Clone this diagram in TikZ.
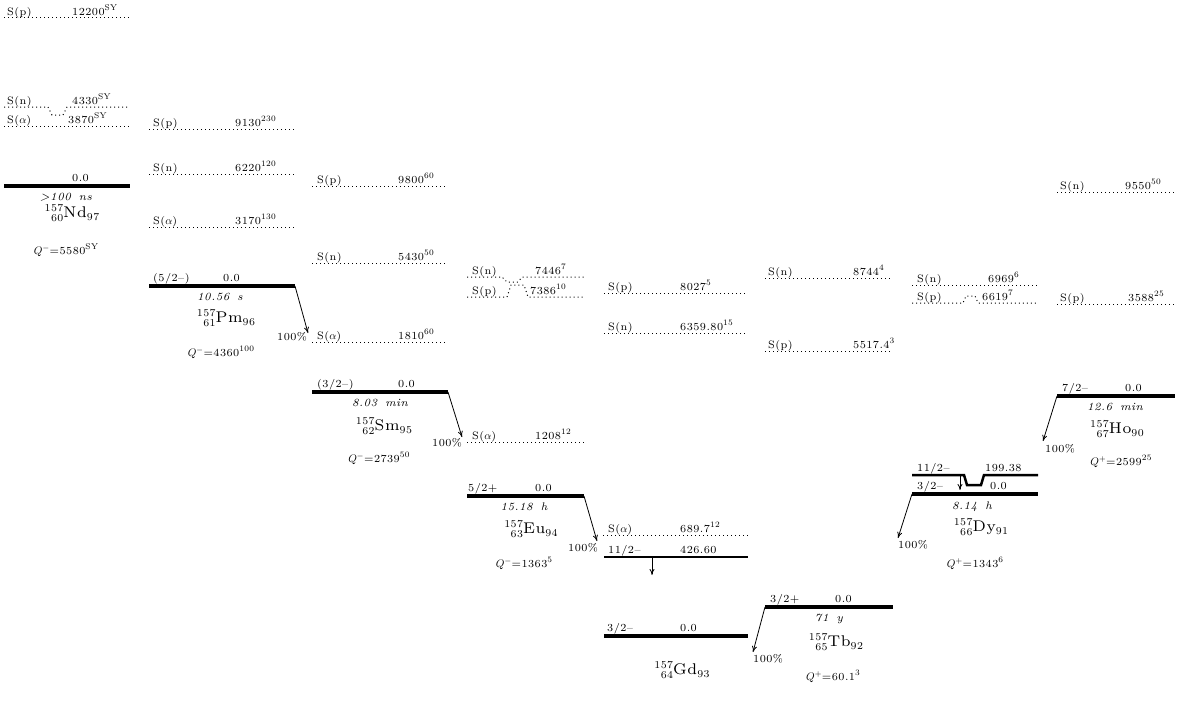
\documentclass[tikz,border=0pt]{standalone}
\usepackage{fontspec}
\setmainfont{lmroman7-regular.otf}[LetterSpace=4,ItalicFont=lmroman7-italic.otf]
\usetikzlibrary{arrows.meta,calc}
\tikzset{
 lab/.style={anchor=base west,inner sep=0pt,font=\fontsize{10.8}{13}\selectfont},
 labc/.style={anchor=base,inner sep=0pt,font=\fontsize{10.8}{13}\selectfont},
 hl/.style={anchor=base,inner sep=0pt,font=\fontsize{11}{13}\selectfont\itshape},
 nucl/.style={anchor=base,inner sep=0pt},
 sepl/.style={line width=1pt,dash pattern=on 1pt off 3pt},
 gsl/.style={line width=4pt},
 exl/.style={line width=2.5pt},
 decay/.style={line width=0.8pt,-{To[length=6pt,width=5pt]}},
}
\newcommand\nuc[4]{\raisebox{0.52em}{\fontsize{10.5}{11}\selectfont #1}\llap{\raisebox{-0.4em}{\fontsize{10.5}{11}\selectfont #2}}{\fontsize{15.5}{17}\selectfont #3}\raisebox{-0.35em}{\fontsize{10.5}{11}\selectfont #4}}
\newcommand\sups[1]{\raisebox{0.42em}{\fontsize{8.3}{9}\selectfont #1}}
\newcommand\hs{\hspace{8pt}}
\newcommand\slab[6]{\node[lab] (#1-l) at (#2,#4) {#5};\node[lab] (#1-v) at (#3,#4) {#6};}
\begin{document}
\begin{tikzpicture}[x=1pt,y=-1pt]
\useasboundingbox (0,0) rectangle (1184,701);
% ---------------- Nd
\draw[sepl] (4,18) -- (130,18);
\slab{ndsp}{7}{72}{15.5}{S(p)}{12200\sups{SY}}
\draw[sepl] (4,107) -- (48,107) -- (52,115) -- (63,115) -- (67,107) -- (130,107);
\slab{ndsn}{7}{72}{104.5}{S(n)}{4330\sups{SY}}
\draw[sepl] (4,126) -- (130,126);
\slab{ndsa}{7}{68}{123.5}{S($\alpha$)}{3870\sups{SY}}
\coordinate (nd0a) at (4,186); \coordinate (nd0b) at (130,186);
\draw[gsl] (nd0a) -- (nd0b);
\node[lab] (nd0e) at (72,181) {0.0};
\node[hl] (ndhl) at (66,200) {>100\hs ns};
\node[nucl] (ndn) at (72,217) {\nuc{157}{60}{Nd}{97}};
\node[labc] (ndq) at (66,254) {$Q^{-}$=5580\sups{SY}};
% ---------------- Pm
\draw[sepl] (149,129) -- (295,129);
\slab{pmsp}{153}{235}{126.5}{S(p)}{9130\sups{230}}
\draw[sepl] (149,174) -- (295,174);
\slab{pmsn}{153}{235}{171.5}{S(n)}{6220\sups{120}}
\draw[sepl] (149,227) -- (295,227);
\slab{pmsa}{153}{235}{224.5}{S($\alpha$)}{3170\sups{130}}
\coordinate (pm0a) at (149,286); \coordinate (pm0b) at (295,286);
\draw[gsl] (pm0a) -- (pm0b);
\node[lab] (pm0s) at (153,281) {(5/2--)};
\node[lab] (pm0e) at (223,281) {0.0};
\node[hl] (pmhl) at (220,300) {10.56\hs s};
\node[nucl] (pmn) at (226,322) {\nuc{157}{61}{Pm}{96}};
\node[labc] (pmq) at (221,356) {$Q^{-}$=4360\sups{100}};
\coordinate (pmend) at (308,333);
\draw[decay] (pm0b) -- (pmend);
\node[lab] (pmbr) at (277,340) {100\%};
% ---------------- Sm
\draw[sepl] (312,186) -- (448,186);
\slab{smsp}{317}{398}{183.5}{S(p)}{9800\sups{60}}
\draw[sepl] (312,263) -- (448,263);
\slab{smsn}{317}{398}{260.5}{S(n)}{5430\sups{50}}
\draw[sepl] (312,342) -- (448,342);
\slab{smsa}{317}{398}{339.5}{S($\alpha$)}{1810\sups{60}}
\coordinate (sm0a) at (312,392); \coordinate (sm0b) at (448,392);
\draw[gsl] (sm0a) -- (sm0b);
\node[lab] (sm0s) at (317,387) {(3/2--)};
\node[lab] (sm0e) at (398,387) {0.0};
\node[hl] (smhl) at (380,406) {8.03\hs min};
\node[nucl] (smn) at (384,430) {\nuc{157}{62}{Sm}{95}};
\node[labc] (smq) at (379,462) {$Q^{-}$=2739\sups{50}};
\coordinate (smend) at (462,437);
\draw[decay] (sm0b) -- (smend);
\node[lab] (smbr) at (432,446) {100\%};
% ---------------- Eu
\draw[sepl] (467,277) -- (502,277) -- (507,282) -- (518,282) -- (522,277) -- (584,277);
\slab{eusn}{472}{535}{274.5}{S(n)}{7446\sups{7}}
\draw[sepl] (467,297) -- (507,297) -- (511,285) -- (524,285) -- (528,297) -- (584,297);
\slab{eusp}{472}{530}{294.5}{S(p)}{7386\sups{10}}
\draw[sepl] (467,442) -- (584,442);
\slab{eusa}{472}{535}{439.5}{S($\alpha$)}{1208\sups{12}}
\coordinate (eu0a) at (467,496); \coordinate (eu0b) at (584,496);
\draw[gsl] (eu0a) -- (eu0b);
\node[lab] (eu0s) at (468,491) {5/2+};
\node[lab] (eu0e) at (535,491) {0.0};
\node[hl] (euhl) at (524,510) {15.18\hs h};
\node[nucl] (eun) at (531,533) {\nuc{157}{63}{Eu}{94}};
\node[labc] (euq) at (524,567) {$Q^{-}$=1363\sups{5}};
\coordinate (euend) at (597,541);
\draw[decay] (eu0b) -- (euend);
\node[lab] (eubr) at (568,551) {100\%};
% ---------------- Gd
\draw[sepl] (604,293) -- (748,293);
\slab{gdsp}{608}{680}{290.5}{S(p)}{8027\sups{5}}
\draw[sepl] (604,333) -- (748,333);
\slab{gdsn}{608}{680}{330.5}{S(n)}{6359.80\sups{15}}
\draw[sepl] (603,535) -- (748,535);
\slab{gdsa}{608}{680}{532.5}{S($\alpha$)}{689.7\sups{12}}
\coordinate (gd1a) at (604,557); \coordinate (gd1b) at (748,557);
\draw[exl] (gd1a) -- (gd1b);
\node[lab] (gd1s) at (608,553) {11/2--};
\node[lab] (gd1e) at (680,553) {426.60};
\coordinate (gd1t) at (652,558); \coordinate (gd1h) at (652,575);
\draw[decay] (gd1t) -- (gd1h);
\coordinate (gd0a) at (604,636); \coordinate (gd0b) at (748,636);
\draw[gsl] (gd0a) -- (gd0b);
\node[lab] (gd0s) at (607,631) {3/2--};
\node[lab] (gd0e) at (680,631) {0.0};
\node[nucl] (gdn) at (682,674) {\nuc{157}{64}{Gd}{93}};
% ---------------- Tb
\draw[sepl] (765,278) -- (893,278);
\slab{tbsn}{768}{853}{275.5}{S(n)}{8744\sups{4}}
\draw[sepl] (765,351) -- (893,351);
\slab{tbsp}{768}{853}{348.5}{S(p)}{5517.4\sups{3}}
\coordinate (tb0a) at (765,607); \coordinate (tb0b) at (893,607);
\draw[gsl] (tb0a) -- (tb0b);
\node[lab] (tb0s) at (770,602) {3/2+};
\node[lab] (tb0e) at (835,602) {0.0};
\node[hl] (tbhl) at (829,621) {71\hs y};
\node[nucl] (tbn) at (836,646) {\nuc{157}{65}{Tb}{92}};
\node[labc] (tbq) at (833,680) {$Q^{+}$=60.1\sups{3}};
\coordinate (tbend) at (753,652);
\draw[decay] (tb0a) -- (tbend);
\node[lab] (tbbr) at (753,662) {100\%};
% ---------------- Dy
\draw[sepl] (912,285) -- (1038,285);
\slab{dysn}{917}{988}{282.5}{S(n)}{6969\sups{6}}
\draw[sepl] (912,303) -- (963,303) -- (966,296) -- (975,296) -- (978,303) -- (1038,303);
\slab{dysp}{917}{982}{300.5}{S(p)}{6619\sups{7}}
\coordinate (dy1a) at (912,475); \coordinate (dy1b) at (1038,475);
\draw[exl] (dy1a) -- (964,475) -- (967,485) -- (981,485) -- (984,475) -- (dy1b);
\node[lab] (dy1s) at (917,471) {11/2--};
\node[lab] (dy1e) at (985,471) {199.38};
\coordinate (dy1t) at (960,476); \coordinate (dy1h) at (960,490);
\draw[decay] (dy1t) -- (dy1h);
\coordinate (dy0a) at (912,494); \coordinate (dy0b) at (1038,494);
\draw[gsl] (dy0a) -- (dy0b);
\node[lab] (dy0s) at (917,489) {3/2--};
\node[lab] (dy0e) at (990,489) {0.0};
\node[hl] (dyhl) at (972,509) {8.14\hs h};
\node[nucl] (dyn) at (981,531) {\nuc{157}{66}{Dy}{91}};
\node[labc] (dyq) at (975,567) {$Q^{+}$=1343\sups{6}};
\coordinate (dyend) at (898,538);
\draw[decay] (dy0a) -- (dyend);
\node[lab] (dybr) at (898,548) {100\%};
% ---------------- Ho
\draw[sepl] (1057,192) -- (1175,192);
\slab{hosn}{1060}{1125}{189.5}{S(n)}{9550\sups{50}}
\draw[sepl] (1057,304) -- (1175,304);
\slab{hosp}{1060}{1128}{301.5}{S(p)}{3588\sups{25}}
\coordinate (ho0a) at (1057,396); \coordinate (ho0b) at (1175,396);
\draw[gsl] (ho0a) -- (ho0b);
\node[lab] (ho0s) at (1062,391) {7/2--};
\node[lab] (ho0e) at (1125,391) {0.0};
\node[hl] (hohl) at (1115,410) {12.6\hs min};
\node[nucl] (hon) at (1117,433) {\nuc{157}{67}{Ho}{90}};
\node[labc] (hoq) at (1121,465) {$Q^{+}$=2599\sups{25}};
\coordinate (hoend) at (1043,441);
\draw[decay] (ho0a) -- (hoend);
\node[lab] (hobr) at (1045,452) {100\%};
\end{tikzpicture}
\end{document}
